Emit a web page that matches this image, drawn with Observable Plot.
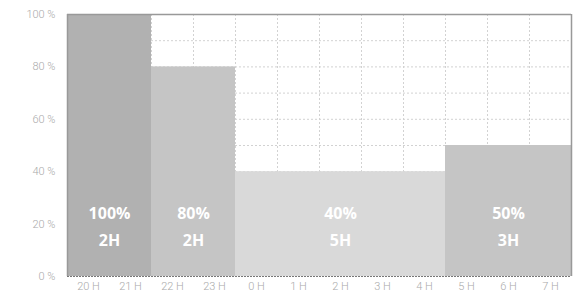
<!DOCTYPE html>
<html><head><meta charset="utf-8">
<script src="https://cdn.jsdelivr.net/npm/d3@7"></script>
<script src="https://cdn.jsdelivr.net/npm/@observablehq/plot@0.6"></script>
<style>body{margin:0;background:#fff}</style>
</head><body><div id="chart"></div>
<script>
const hourLabels = ["20 H","21 H","22 H","23 H","0 H","1 H","2 H","3 H","4 H","5 H","6 H","7 H"];
const barStart = [0, 2, 4, 9];
const barEnd = [2, 4, 9, 12];
const barValue = [100, 80, 40, 50];
const barPct = ["100%", "80%", "40%", "50%"];
const barHours = ["2H", "2H", "5H", "3H"];
const barColor = ["#b1b1b1", "#c5c5c5", "#d9d9d9", "#c5c5c5"];
const yTicks = [0, 20, 40, 60, 80, 100];

const bars = barValue.map((v, i) => ({x1: barStart[i], x2: barEnd[i], v, pct: barPct[i], h: barHours[i], c: barColor[i], xm: (barStart[i] + barEnd[i]) / 2}));
const hours = hourLabels.map((l, i) => ({l, x: i + 0.5}));

const chart = Plot.plot({
  width: 577, height: 293,
  marginLeft: 67, marginRight: 6, marginTop: 14, marginBottom: 17,
  style: {fontFamily: "Roboto, sans-serif", fontSize: "11px", color: "#aaa", background: "#fff"},
  x: {domain: [0, 12], axis: null},
  y: {domain: [0, 100], axis: null},
  marks: [
    Plot.ruleY(d3.range(10, 100, 10), {stroke: "#d2d2d2", strokeDasharray: "2,2", strokeWidth: 1}),
    Plot.ruleX(d3.range(1, 12), {stroke: "#d2d2d2", strokeDasharray: "2,2", strokeWidth: 1}),
    Plot.rectY(bars, {x1: "x1", x2: "x2", y1: 0, y2: "v", fill: "c"}),
    Plot.ruleY([100], {stroke: "#999", strokeWidth: 1.5}),
    Plot.ruleX([0, 12], {stroke: "#999", strokeWidth: 1.5}),
    Plot.ruleY([0], {stroke: "#777", strokeDasharray: "2,1", strokeWidth: 1}),
    Plot.text(bars, {x: "xm", y: 24, text: "pct", fill: "white", fontWeight: "bold", fontSize: 16, fontFamily: "'Open Sans', sans-serif"}),
    Plot.text(bars, {x: "xm", y: 13.5, text: "h", fill: "white", fontWeight: "bold", fontSize: 16, fontFamily: "'Open Sans', sans-serif"}),
    Plot.text(hours, {x: "x", y: 0, dy: 10, text: "l", fill: "#aaa", fontSize: 11, fontWeight: 300}),
    Plot.text(yTicks, {x: 0, y: d => d, dx: -12, text: d => d + " %", fill: "#aaa", textAnchor: "end", fontSize: 11, fontWeight: 300})
  ]
});
document.getElementById("chart").append(chart);
</script>
</body></html>
